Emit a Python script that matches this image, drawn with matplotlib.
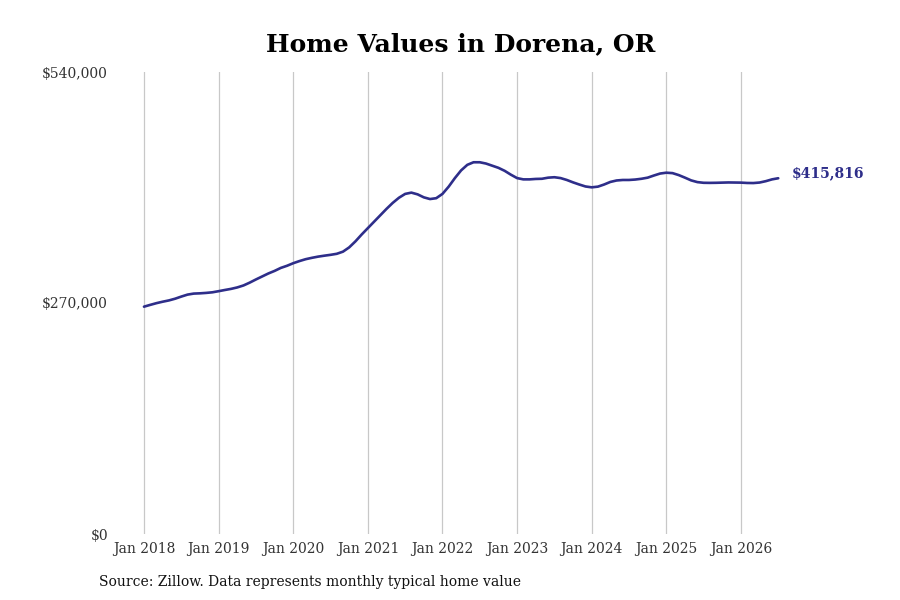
import matplotlib
matplotlib.use("Agg")
import matplotlib.pyplot as plt
import numpy as np

start_year = 2018
values = [
    # 2018
    265700, 267800, 269800, 271500, 273000, 275000, 277500, 279800, 281000, 281300, 281800, 282500,
    # 2019
    283800, 285200, 286500, 288200, 290500, 293800, 297500, 301000, 304500, 307500, 311000, 313500,
    # 2020
    316500, 319000, 321200, 322800, 324200, 325300, 326300, 327500, 330000, 335000, 342000, 350000,
    # 2021
    357500, 365000, 372500, 380000, 387000, 393000, 397500, 399000, 397000, 393500, 391500, 392500,
    # 2022
    397500, 406000, 416000, 425000, 431500, 434500, 434500, 433000, 430500, 428000, 424500, 420000,
    # 2023
    416000, 414500, 414500, 415000, 415200, 416500, 417000, 416000, 413800, 411000, 408500, 406200,
    # 2024
    405200, 406000, 408500, 411500, 413200, 413800, 413800, 414300, 415200, 416500, 419000, 421300,
    # 2025
    422300, 421800, 419500, 416500, 413300, 411300, 410500, 410400, 410500, 410700, 410900, 410800,
    # 2026
    410700, 410300, 410200, 410800, 412400, 414500, 415816,
]
tick_labels = ["Jan 2018", "Jan 2019", "Jan 2020", "Jan 2021", "Jan 2022",
               "Jan 2023", "Jan 2024", "Jan 2025", "Jan 2026"]
y_ticks = [0, 270000, 540000]
y_tick_labels = ["$0", "$270,000", "$540,000"]

title = "Home Values in Dorena, OR"
source = "Source: Zillow. Data represents monthly typical home value"
line_color = "#2e2e8a"

x = np.arange(len(values))

fig = plt.figure(figsize=(9, 6), dpi=100)
ax = fig.add_axes([115/900, 66/600, 685/900, 462/600])

ax.plot(x, values, color=line_color, lw=1.9, solid_capstyle="round")
ax.set_ylim(0, 540000)
ax.set_xlim(-4.66, 105.5)

tick_pos = [12*i for i in range(len(tick_labels))]
ax.set_xticks(tick_pos)
ax.set_xticklabels(tick_labels, family="DejaVu Serif", fontsize=10, color="#333333")
ax.set_yticks(y_ticks)
ax.set_yticklabels(y_tick_labels, family="DejaVu Serif", fontsize=10, color="#333333")
ax.tick_params(axis="both", length=0)
ax.tick_params(axis="x", pad=6)
ax.tick_params(axis="y", pad=5)
ax.grid(axis="x", color="#c8c8c8", lw=0.9)
ax.grid(axis="y", visible=False)
for s in ax.spines.values():
    s.set_visible(False)

ax.annotate("${:,.0f}".format(values[-1]), xy=(x[-1], values[-1]),
            xytext=(10, 3.5), textcoords="offset points", va="center", ha="left",
            family="DejaVu Serif", fontweight="bold", fontsize=10, color=line_color)

fig.text(0.512, 0.927, title, ha="center", va="center", family="DejaVu Serif",
         fontweight="bold", fontsize=18)
fig.text(99/900, 1 - 582/600, source, ha="left", va="center", family="DejaVu Serif",
         fontsize=10, color="#111111")

fig.savefig("out.png", dpi=100)
